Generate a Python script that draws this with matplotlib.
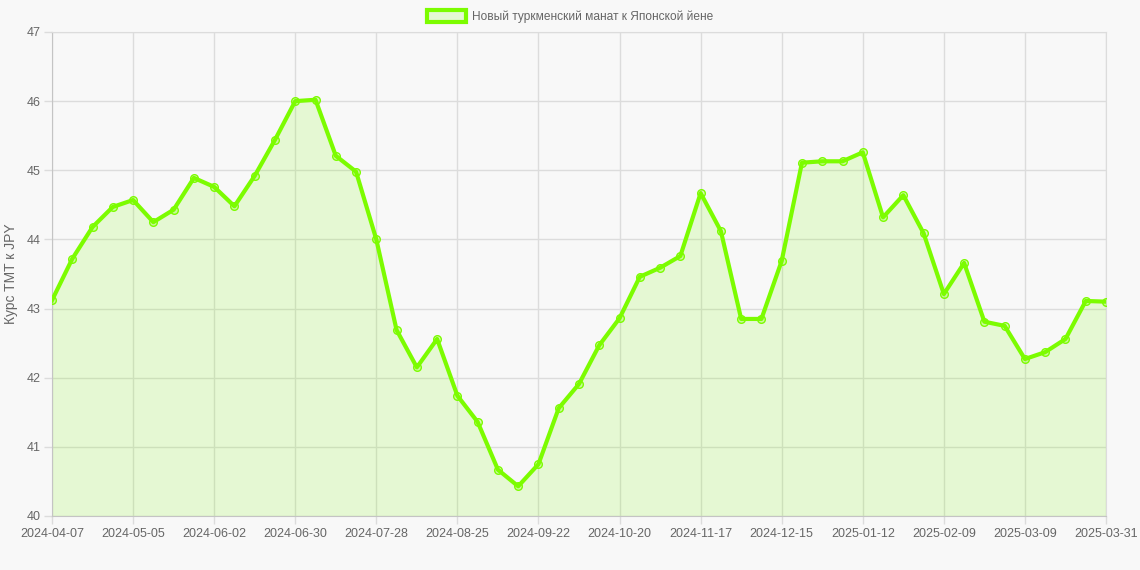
import matplotlib
matplotlib.use("Agg")
import matplotlib.pyplot as plt
from matplotlib.patches import Patch
import pandas as pd

# weekly categories, last point is the 31st of March
dates = [d.strftime("%Y-%m-%d") for d in pd.date_range("2024-04-07", periods=52, freq="7D")]
dates.append("2025-03-31")

rates = [43.12, 43.72, 44.18, 44.47, 44.57, 44.25, 44.43, 44.89, 44.76, 44.48,
         44.92, 45.44, 46.00, 46.02, 45.21, 44.98, 44.00, 42.69, 42.15, 42.56,
         41.74, 41.36, 40.67, 40.43, 40.75, 41.56, 41.91, 42.47, 42.86, 43.46,
         43.59, 43.76, 44.67, 44.12, 42.85, 42.85, 43.69, 45.11, 45.13, 45.13,
         45.26, 44.32, 44.64, 44.09, 43.21, 43.66, 42.81, 42.75, 42.27, 42.37,
         42.56, 43.11, 43.10]

series_name = "Новый туркменский манат к Японской йене"
y_title = "Курс TMT к JPY"
y_ticks = [40, 41, 42, 43, 44, 45, 46, 47]

line_color = "#7cfc00"
fill_color = (124 / 255, 252 / 255, 0, 0.15)
grid_color = "#dcdcdc"
text_color = "#666666"
bg = "#f8f8f8"

plt.rcParams["font.family"] = ["Liberation Sans", "DejaVu Sans"]

fig = plt.figure(figsize=(11.4, 5.7), dpi=100, facecolor=bg)
ax = fig.add_axes([52 / 1140, 1 - 516 / 570, (1106 - 52) / 1140, (516 - 32) / 570])
ax.set_facecolor(bg)

x = list(range(len(rates)))
ax.fill_between(x, rates, y_ticks[0], color=fill_color, linewidth=0, zorder=2)
ax.plot(x, rates, color=line_color, linewidth=3, zorder=3,
        marker="o", markersize=5.5, markerfacecolor=(124 / 255, 252 / 255, 0, 0.25),
        markeredgecolor=line_color, markeredgewidth=1)

ax.set_xlim(0, len(rates) - 1)
ax.set_ylim(y_ticks[0], y_ticks[-1])
ax.set_yticks(y_ticks)

tick_idx = list(range(0, len(dates) - 1, 4)) + [len(dates) - 1]
ax.set_xticks(tick_idx)
ax.set_xticklabels([dates[i] for i in tick_idx])

ax.grid(True, color=grid_color, linewidth=1, zorder=1)
ax.set_axisbelow(True)
for side in ["top", "right"]:
    ax.spines[side].set_color(grid_color)
for side in ["left", "bottom"]:
    ax.spines[side].set_color("#c4c4c4")
ax.tick_params(axis="both", colors=grid_color, labelcolor=text_color,
               labelsize=9, length=5.5, width=1, pad=3)

ax.set_ylabel(y_title, color=text_color, fontsize=10)
ax.yaxis.set_label_coords(-0.032, 0.5)

fig.legend(handles=[Patch(facecolor=fill_color, edgecolor=line_color, linewidth=3,
                          label=series_name)],
           loc="upper center", bbox_to_anchor=(0.5, 1.0), frameon=False,
           fontsize=8.6, labelcolor=text_color, handlelength=3.3, handleheight=1.15,
           handletextpad=0.5, borderaxespad=0.45)

fig.savefig("out.png", dpi=100, facecolor=bg)
